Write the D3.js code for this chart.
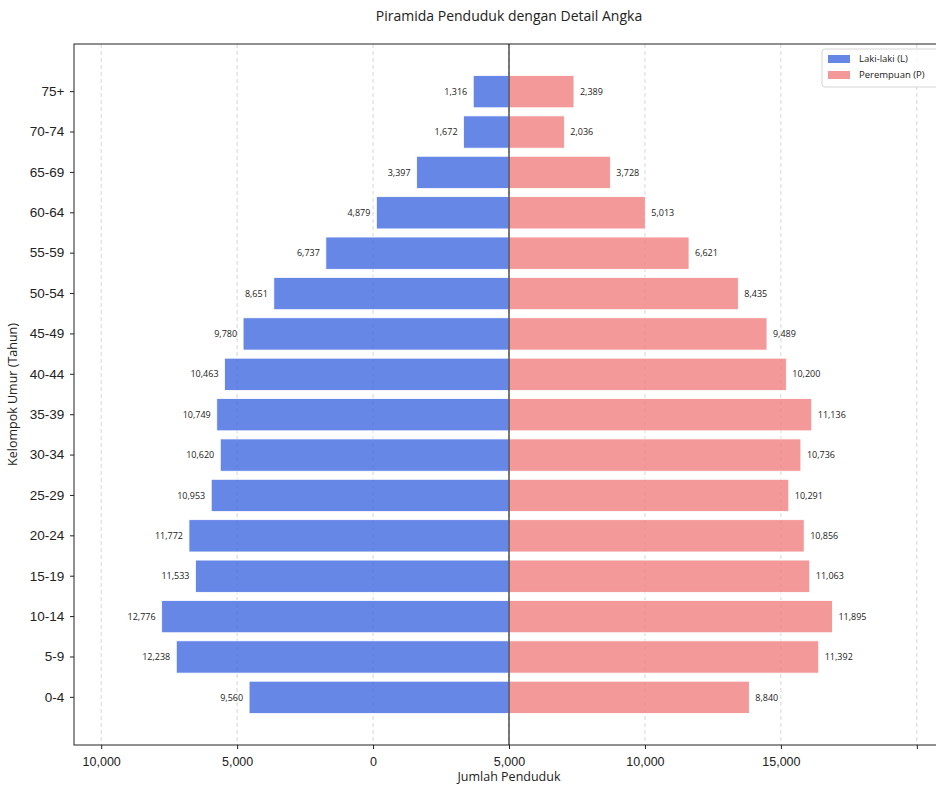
<!DOCTYPE html>
<html>
<head>
<meta charset="utf-8">
<script src="https://cdn.jsdelivr.net/npm/d3@7"></script>
<style>
  body { margin: 0; background: #fff; }
  svg { font-family: "Open Sans", "DejaVu Sans", sans-serif; }
</style>
</head>
<body>
<div id="chart"></div>
<script>
// Age groups, bottom to top
const ageGroups = ["0-4", "5-9", "10-14", "15-19", "20-24", "25-29", "30-34", "35-39",
  "40-44", "45-49", "50-54", "55-59", "60-64", "65-69", "70-74", "75+"];
const male = [9560, 12238, 12776, 11533, 11772, 10953, 10620, 10749,
  10463, 9780, 8651, 6737, 4879, 3397, 1672, 1316];
const female = [8840, 11392, 11895, 11063, 10856, 10291, 10736, 11136,
  10200, 9489, 8435, 6621, 5013, 3728, 2036, 2389];

// tick positions and the labels printed under them (as in the source chart)
const tickValues = [-15000, -10000, -5000, 0, 5000, 10000, 15000];
const tickLabels = ["10,000", "5,000", "0", "5,000", "10,000", "15,000", ""];

const W = 936, H = 785;
const margin = {top: 44, right: -8, bottom: 40, left: 74};
const width = W - margin.left - margin.right;
const height = H - margin.top - margin.bottom;

const svg = d3.select("#chart").append("svg")
  .attr("width", W).attr("height", H);

const g = svg.append("g")
  .attr("transform", `translate(${margin.left},${margin.top})`);

const x = d3.scaleLinear().domain([-16000, 16000]).range([0, width]);
const y = d3.scaleBand()
  .domain(ageGroups.slice().reverse())
  .range([0, height])
  .paddingInner(0.2)
  .paddingOuter(0.78);

// grid
g.append("g").selectAll("line")
  .data(tickValues)
  .join("line")
  .attr("x1", d => x(d)).attr("x2", d => x(d))
  .attr("y1", 0).attr("y2", height)
  .attr("stroke", "#cccccc")
  .attr("stroke-width", 0.8)
  .attr("stroke-dasharray", "4,3");

// bars
const rows = ageGroups.map((a, i) => ({age: a, m: male[i], f: female[i]}));

g.append("g").selectAll("rect")
  .data(rows)
  .join("rect")
  .attr("x", d => x(-d.m))
  .attr("y", d => y(d.age))
  .attr("width", d => x(0) - x(-d.m))
  .attr("height", y.bandwidth())
  .attr("fill", "#4169E1")
  .attr("fill-opacity", 0.8)
  .attr("stroke", "#fff")
  .attr("stroke-width", 0.8);

g.append("g").selectAll("rect")
  .data(rows)
  .join("rect")
  .attr("x", x(0))
  .attr("y", d => y(d.age))
  .attr("width", d => x(d.f) - x(0))
  .attr("height", y.bandwidth())
  .attr("fill", "#F08080")
  .attr("fill-opacity", 0.8)
  .attr("stroke", "#fff")
  .attr("stroke-width", 0.8);

// value labels
const fmt = d3.format(",");
g.append("g").selectAll("text")
  .data(rows)
  .join("text")
  .attr("x", d => x(-d.m) - 6)
  .attr("y", d => y(d.age) + y.bandwidth() / 2)
  .attr("dy", "0.35em")
  .attr("text-anchor", "end")
  .attr("font-size", 9)
  .attr("fill", "#222")
  .text(d => fmt(d.m));

g.append("g").selectAll("text")
  .data(rows)
  .join("text")
  .attr("x", d => x(d.f) + 6)
  .attr("y", d => y(d.age) + y.bandwidth() / 2)
  .attr("dy", "0.35em")
  .attr("font-size", 9)
  .attr("fill", "#222")
  .text(d => fmt(d.f));

// centre line
g.append("line")
  .attr("x1", x(0)).attr("x2", x(0))
  .attr("y1", 0).attr("y2", height)
  .attr("stroke", "#222").attr("stroke-width", 1.2);

// frame
g.append("rect")
  .attr("width", width).attr("height", height)
  .attr("fill", "none").attr("stroke", "#222").attr("stroke-width", 1);

// axes
const xAxis = g.append("g")
  .attr("transform", `translate(0,${height})`)
  .call(d3.axisBottom(x).tickValues(tickValues)
    .tickFormat((d, i) => tickLabels[i]).tickSizeOuter(0).tickSize(4));
xAxis.select(".domain").remove();
xAxis.selectAll("text").attr("font-size", 12.5).attr("fill", "#222").attr("dy", "1.1em");
xAxis.selectAll("line").attr("stroke", "#222");

const yAxis = g.append("g")
  .call(d3.axisLeft(y).tickSizeOuter(0).tickSize(4));
yAxis.select(".domain").remove();
yAxis.selectAll("text").attr("font-size", 13.5).attr("fill", "#222").attr("dx", "-0.2em");
yAxis.selectAll("line").attr("stroke", "#222");

// titles
svg.append("text")
  .attr("x", 509).attr("y", 21)
  .attr("text-anchor", "middle")
  .attr("font-size", 14)
  .attr("fill", "#222")
  .text("Piramida Penduduk dengan Detail Angka");

svg.append("text")
  .attr("x", 509).attr("y", 781)
  .attr("text-anchor", "middle")
  .attr("font-size", 12.5)
  .attr("fill", "#222")
  .text("Jumlah Penduduk");

svg.append("text")
  .attr("transform", `translate(17,${margin.top + height / 2}) rotate(-90)`)
  .attr("text-anchor", "middle")
  .attr("font-size", 12.5)
  .attr("fill", "#222")
  .text("Kelompok Umur (Tahun)");

// legend
const leg = svg.append("g").attr("transform", "translate(822,49)");
leg.append("rect")
  .attr("width", 130).attr("height", 38).attr("rx", 3)
  .attr("fill", "#fff").attr("fill-opacity", 0.85)
  .attr("stroke", "#d5d5d5");
const legItems = [
  {label: "Laki-laki (L)", color: "#4169E1"},
  {label: "Perempuan (P)", color: "#F08080"}
];
legItems.forEach((it, i) => {
  leg.append("rect")
    .attr("x", 6).attr("y", 6 + i * 16)
    .attr("width", 22).attr("height", 8)
    .attr("fill", it.color).attr("fill-opacity", 0.8);
  leg.append("text")
    .attr("x", 37).attr("y", 10 + i * 16)
    .attr("dy", "0.35em")
    .attr("font-size", 9.5)
    .attr("fill", "#222")
    .text(it.label);
});
</script>
</body>
</html>
